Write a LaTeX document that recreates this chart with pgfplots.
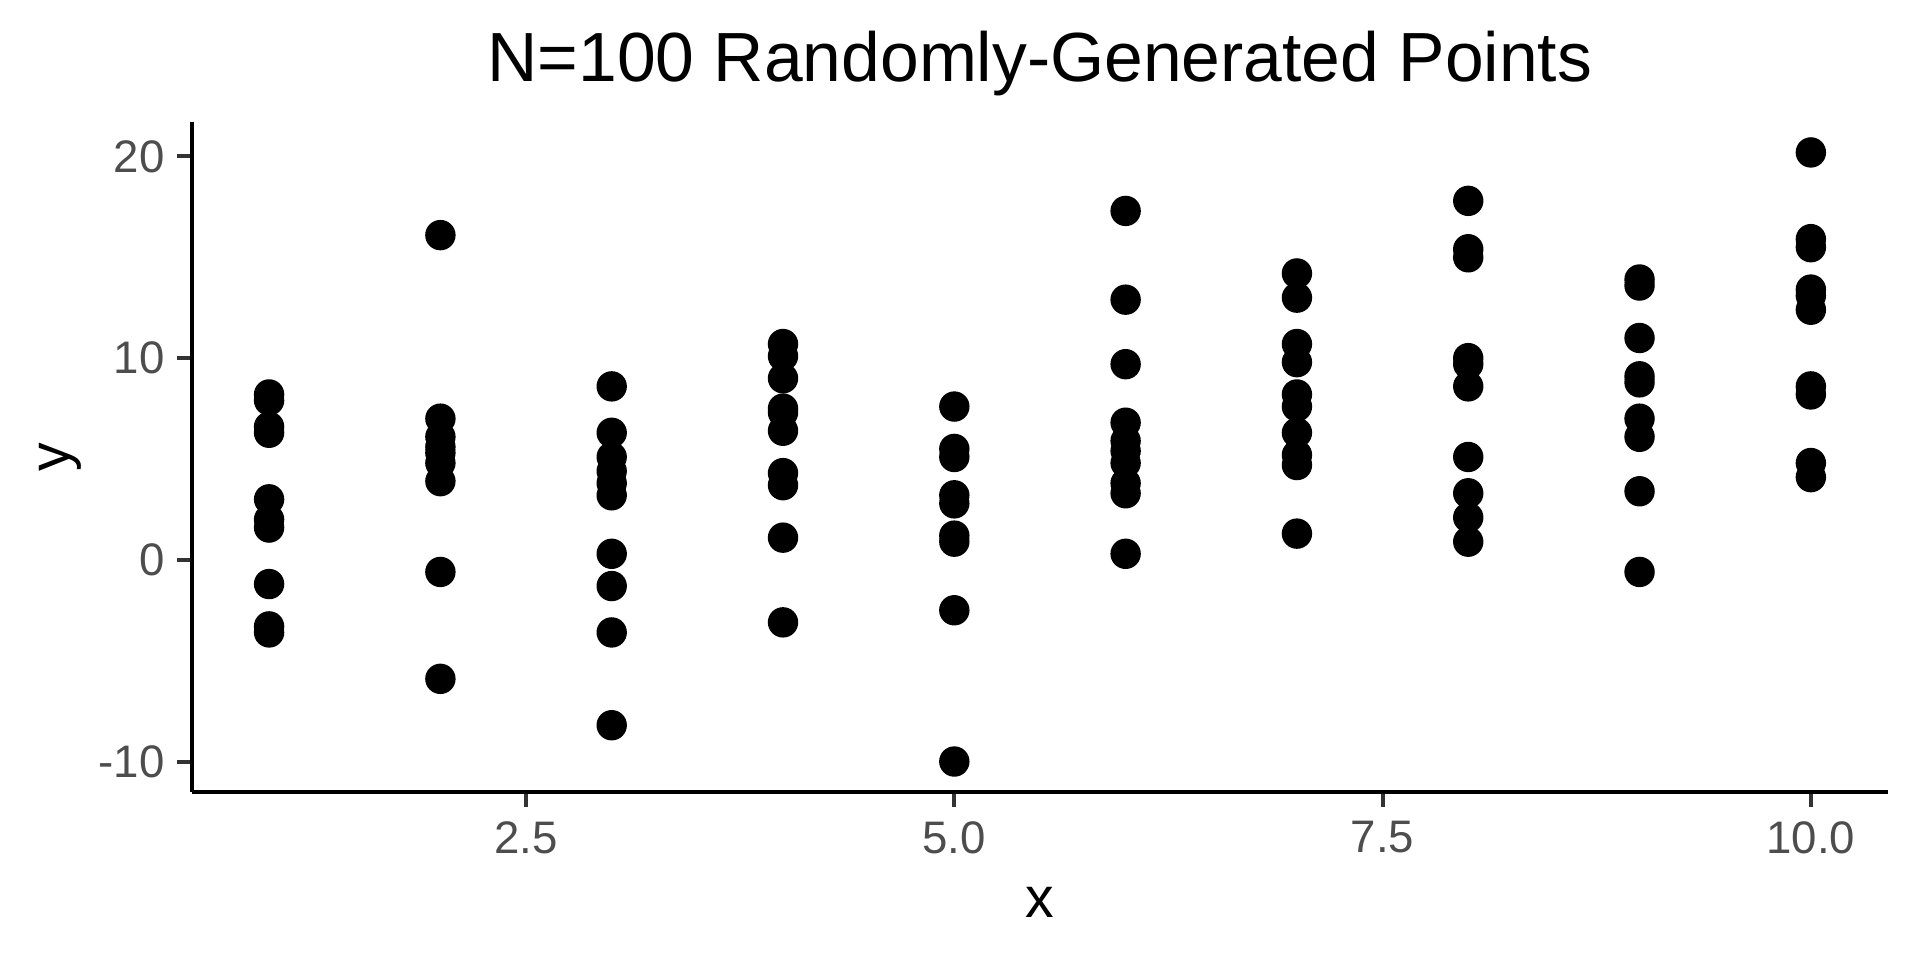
\documentclass[border=0pt]{standalone}
\usepackage{pgfplots}
\pgfplotsset{compat=1.18}
\usepackage{fontspec}
\setmainfont{Liberation Sans}
\definecolor{ticktext}{HTML}{4D4D4D}
\definecolor{tickline}{HTML}{333333}

\begin{document}
\begin{tikzpicture}
\useasboundingbox (-48pt,-42pt) rectangle (432pt,198pt);
\begin{axis}[
    at={(0,0)}, anchor=south west,
    scale only axis,
    width=424pt, height=167.5pt,
    xmin=0.55, xmax=10.45,
    ymin=-11.51, ymax=21.71,
    axis x line*=bottom, axis y line*=left,
    axis line style={-, line width=1.1pt, black},
    tick align=outside,
    major tick length=3.8pt,
    tick style={line width=1pt, tickline},
    xtick={2.5,5,7.5,10},
    xticklabels={2.5,5.0,7.5,10.0},
    ytick={-10,0,10,20},
    yticklabels={-10,0,10,20},
    ticklabel style={font=\fontsize{11.4}{13}\selectfont, text=ticktext},
    xticklabel style={yshift=0pt},
    yticklabel style={xshift=0.5pt},
    /pgf/number format/assume math mode=true,
    title={N=100 Randomly-Generated Points},
    every axis title shift=0pt,
    title style={font=\fontsize{17.4}{20}\selectfont, at={(0.5,1)}, anchor=base, yshift=10pt},
    xlabel={x},
    xlabel style={font=\fontsize{14.3}{16}\selectfont, at={(0.5,0)}, anchor=base, yshift=-31.5pt},
    clip=false,
]
\addplot[only marks, mark=*, mark size=3.6pt, black] table {
x y
1 8.2
1 7.9
1 6.6
1 6.3
1 3.0
1 2.0
1 1.6
1 -1.2
1 -3.3
1 -3.6
2 16.1
2 7.0
2 6.1
2 5.6
2 5.3
2 4.8
2 3.9
2 -0.6
2 -5.9
3 8.6
3 6.3
3 5.1
3 4.4
3 3.8
3 3.2
3 0.3
3 -1.3
3 -3.6
3 -8.2
4 10.7
4 10.1
4 9.0
4 7.5
4 7.3
4 6.4
4 4.3
4 3.7
4 1.1
4 -3.1
5 7.6
5 5.5
5 5.1
5 3.2
5 2.8
5 1.2
5 0.9
5 -2.5
5 -10.0
6 17.3
6 12.9
6 9.7
6 6.8
6 5.9
6 5.4
6 4.8
6 3.8
6 3.3
6 0.3
7 14.2
7 13.0
7 10.7
7 9.8
7 8.2
7 7.6
7 6.3
7 5.2
7 4.7
7 1.3
8 17.8
8 15.4
8 15.0
8 10.0
8 9.7
8 8.6
8 5.1
8 3.3
8 2.1
8 0.9
9 13.9
9 13.6
9 11.0
9 9.1
9 8.8
9 7.0
9 6.1
9 3.4
9 -0.6
10 20.2
10 15.9
10 15.5
10 13.4
10 13.1
10 12.4
10 8.6
10 8.2
10 4.8
10 4.1
};
\end{axis}
\node[rotate=90, font=\fontsize{14.3}{16}\selectfont] at (-33pt,83.75pt) {y};
\end{tikzpicture}
\end{document}
